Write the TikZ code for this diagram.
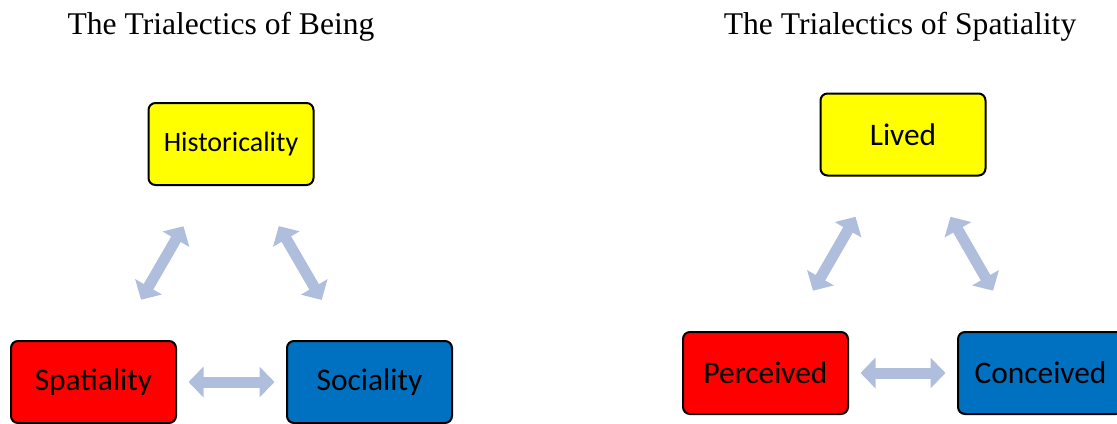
\documentclass[tikz,border=0pt]{standalone}
\usepackage{fontspec}
\setmainfont{Liberation Serif}
\newfontfamily\boxfont{Carlito}
\usetikzlibrary{arrows.meta, positioning}

\definecolor{boxyellow}{RGB}{255,255,0}
\definecolor{boxred}{RGB}{255,0,0}
\definecolor{boxblue}{RGB}{0,112,192}
\definecolor{linkblue}{RGB}{176,190,222}

\begin{document}
\begin{tikzpicture}[x=0.5pt, y=-0.5pt,
    component/.style={draw, line width=1pt, rounded corners=3.5pt, minimum width=82.5pt, minimum height=41pt, inner sep=0pt, font=\boxfont\fontsize{15.7}{18}\selectfont},
    heading/.style={font=\fontsize{15.8}{19}\selectfont},
    link/.style={draw=linkblue, line width=5.5pt, {Triangle[width=15pt, length=7.5pt]}-{Triangle[width=15pt, length=7.5pt]}, shorten <=47.5pt, shorten >=47.5pt}
]
\useasboundingbox (0,0) rectangle (1117,423);

% Headings
\node[heading] (beingtitle) at (221,27) {The Trialectics of Being};
\node[heading] (spacetitle) at (900,27) {The Trialectics of Spatiality};

% Trialectics of being
\node[component, fill=boxyellow, font=\boxfont\fontsize{14}{17}\selectfont] (hist) at (231,144) {Historicality};
\node[component, fill=boxred] (spat) at (93.5,382) {Spatiality};
\node[component, fill=boxblue] (soc) at (369.5,382) {Sociality};

\draw[link] (hist.center) -- (spat.center);
\draw[link] (hist.center) -- (soc.center);
\draw[link] (spat.center) -- (soc.center);

% Trialectics of spatiality
\node[component, fill=boxyellow] (lived) at (903,134.5) {Lived};
\node[component, fill=boxred] (perc) at (765.5,373) {Perceived};
\node[component, fill=boxblue] (conc) at (1040.5,373) {Conceived};

\draw[link] (lived.center) -- (perc.center);
\draw[link] (lived.center) -- (conc.center);
\draw[link] (perc.center) -- (conc.center);

\end{tikzpicture}
\end{document}
